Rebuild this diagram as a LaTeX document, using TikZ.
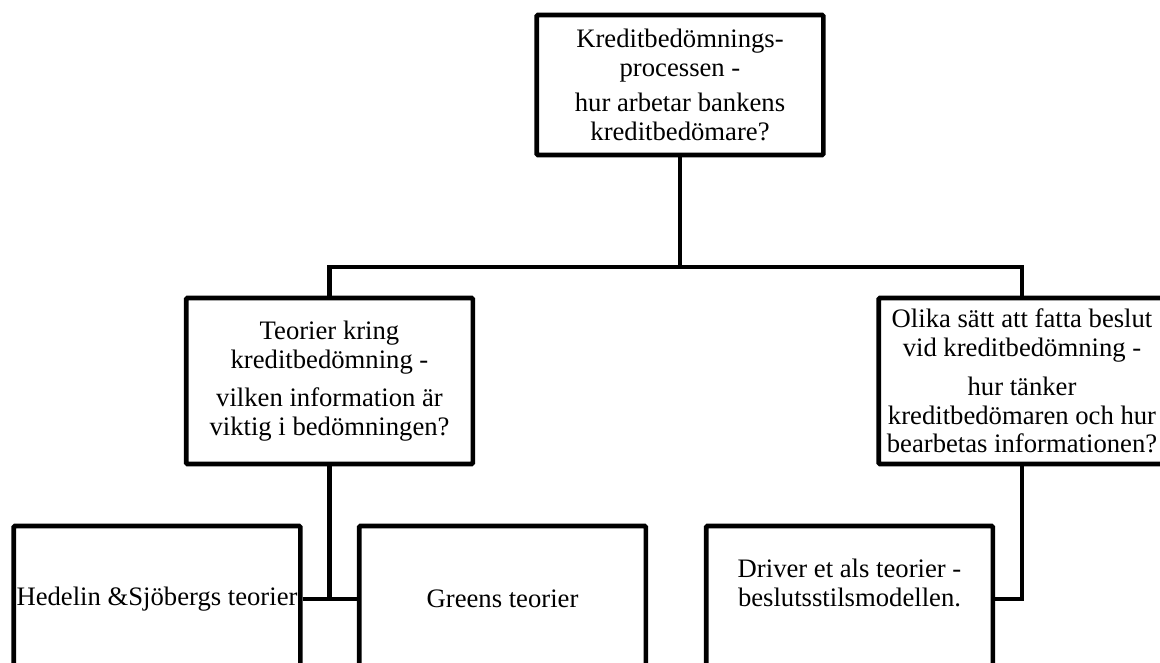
\documentclass[tikz,border=0pt]{standalone}
\usepackage{fontspec}
\setmainfont{Liberation Serif}

\begin{document}
\begin{tikzpicture}[
    x=0.75pt, y=-0.75pt,
    every node/.style={font=\fontsize{20}{21.5}\selectfont, align=center},
    box/.style={draw=black, line width=3.5pt, rounded corners=1pt,
                fill=white, inner sep=2pt, minimum width=215pt},
    conn/.style={draw=black, line width=3.5pt}
  ]
  \useasboundingbox (0,0) rectangle (1160,663);
  \clip (0,0) rectangle (1160,663);

  \node[box, minimum height=105pt]   (proc)    at (680,85)    {Kreditbedömnings-\\processen -\\[5pt]hur arbetar bankens\\kreditbedömare?};
  \node[box, minimum height=124.5pt] (teori)   at (329.5,381) {Teorier kring\\kreditbedömning -\\[7pt]vilken information är\\viktig i bedömningen?};
  \node[box, minimum height=124.5pt] (beslut)  at (1022,381)  {Olika sätt att fatta beslut\\vid kreditbedömning -\\[8pt]hur tänker\\kreditbedömaren och hur\\bearbetas informationen?};
  \node[box, minimum height=109.5pt] (hedelin) at (157,599)   {Hedelin \&Sjöbergs teorier};
  \node[box, minimum height=109.5pt] (green)   at (502.5,599) {Greens teorier};
  \node[box, minimum height=109.5pt, text depth=24pt] (driver) at (849.5,599) {Driver et als teorier -\\beslutsstilsmodellen.};

  \coordinate (split) at (680,267);

  \draw[conn] (proc.south) -- (split);
  \draw[conn] (teori.north) |- (split) -| (beslut.north);
  \draw[conn] (teori.south) -- (teori.south |- hedelin.east);
  \draw[conn] (hedelin.east) -- (green.west);
  \draw[conn] (beslut.south) |- (driver.east);
\end{tikzpicture}
\end{document}
